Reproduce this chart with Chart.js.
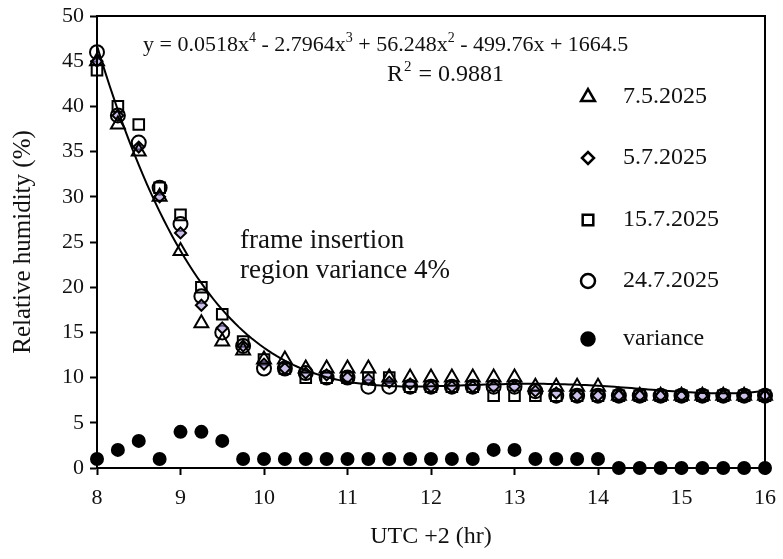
<!DOCTYPE html>
<html>
<head>
<meta charset="utf-8">
<script src="https://cdn.jsdelivr.net/npm/chart.js@4"></script>
<style>
  body { margin: 0; background: #fff; }
  #wrap { width: 783px; height: 559px; }
</style>
</head>
<body>
<div id="wrap"><canvas id="humidityChart" width="783" height="559"></canvas></div>
<script>
// hours, UTC +2
const hours = [8, 8.25, 8.5, 8.75, 9, 9.25, 9.5, 9.75, 10, 10.25, 10.5, 10.75, 11, 11.25, 11.5, 11.75,
    12, 12.25, 12.5, 12.75, 13, 13.25, 13.5, 13.75, 14, 14.25, 14.5, 14.75, 15, 15.25, 15.5, 15.75, 16];

const may7 = [45, 38, 35, 30, 24, 16, 14, 13, 12, 12, 11, 11, 11, 11, 10, 10,
    10, 10, 10, 10, 10, 9, 9, 9, 9, 8, 8, 8, 8, 8, 8, 8, 8];
const jul5 = [45, 39, 35.5, 30, 26, 18, 15.5, 13.5, 11.5, 11, 10.5, 10.3, 10, 9.8, 9.5, 9.3,
    9, 9, 9, 9, 9, 8.5, 8.3, 8, 8, 8, 8, 8, 8, 8, 8, 8, 8];
const jul15 = [44, 40, 38, 31, 28, 20, 17, 14, 12, 11, 10, 10, 10, 10, 10, 9,
    9, 9, 9, 8, 8, 8, 8, 8, 8, 8, 8, 8, 8, 8, 8, 8, 8];
const jul24 = [46, 39, 36, 31, 27, 19, 15, 13.5, 11, 11, 10.5, 10, 10, 9, 9, 9,
    9, 9, 9, 9, 9, 8.5, 8, 8, 8, 8, 8, 8, 8, 8, 8, 8, 8];
const variance = [1, 2, 3, 1, 4, 4, 3, 1, 1, 1, 1, 1, 1, 1, 1, 1,
    1, 1, 1, 2, 2, 1, 1, 1, 1, 0, 0, 0, 0, 0, 0, 0, 0];

// polynomial fit printed on the chart: a4, a3, a2, a1, a0
const fitCoef = [0.0518, -2.7964, 56.248, -499.76, 1664.5];
const rSquared = '0.9881';

const xTicks = [8, 9, 10, 11, 12, 13, 14, 15, 16];
const yTicks = [0, 5, 10, 15, 20, 25, 30, 35, 40, 45, 50];

const serif = "'Liberation Serif', 'Times New Roman', serif";

function pts(vals) {
    return hours.map((h, i) => ({ x: h, y: vals[i] }));
}

const fitLine = [];
for (let x = 8; x <= 16.0001; x += 0.05) {
    const y = fitCoef[0] * x ** 4 + fitCoef[1] * x ** 3 + fitCoef[2] * x ** 2 + fitCoef[3] * x + fitCoef[4];
    fitLine.push({ x: x, y: y });
}

const series = [
    { label: '7.5.2025', data: pts(may7), pointStyle: 'triangle', pointRadius: 8, legendRadius: 8, backgroundColor: 'rgba(255,255,255,0)' },
    { label: '5.7.2025', data: pts(jul5), pointStyle: 'rectRot', pointRadius: 5.5, legendRadius: 6, backgroundColor: 'rgba(160,140,210,0.55)' },
    { label: '15.7.2025', data: pts(jul15), pointStyle: 'rect', pointRadius: 7.5, legendRadius: 7.5, backgroundColor: 'rgba(255,255,255,0)' },
    { label: '24.7.2025', data: pts(jul24), pointStyle: 'circle', pointRadius: 7, legendRadius: 7, backgroundColor: 'rgba(255,255,255,0)' },
    { label: 'variance', data: pts(variance), pointStyle: 'circle', pointRadius: 6, legendRadius: 6.5, backgroundColor: '#000' }
];

const datasets = series.map((s) => ({
    type: 'scatter',
    label: s.label,
    data: s.data,
    pointStyle: s.pointStyle,
    pointRadius: s.pointRadius,
    legendRadius: s.legendRadius,
    pointBackgroundColor: s.backgroundColor,
    pointBorderColor: '#000',
    pointBorderWidth: 2,
    showLine: false,
    clip: false
}));

datasets.push({
    type: 'line',
    label: 'fit',
    data: fitLine,
    borderColor: '#000',
    borderWidth: 2,
    pointRadius: 0,
    tension: 0,
    order: -1
});

// text, box and legend drawn on top
const extras = {
    id: 'extras',
    afterDraw(chart) {
        const ctx = chart.ctx;
        const a = chart.chartArea;
        ctx.save();
        ctx.strokeStyle = '#000';
        ctx.lineWidth = 2;
        ctx.strokeRect(a.left, a.top, a.right - a.left, a.bottom - a.top);

        ctx.fillStyle = '#111';
        ctx.textBaseline = 'middle';
        ctx.textAlign = 'left';

        // equation with superscripts
        const parts = [
            ['y = 0.0518x', 0], ['4', 1], [' - 2.7964x', 0], ['3', 1], [' + 56.248x', 0], ['2', 1],
            [' - 499.76x + 1664.5', 0]
        ];
        let x = 143;
        const y = 45;
        for (const [t, sup] of parts) {
            ctx.font = (sup ? '14px ' : '22px ') + serif;
            ctx.fillText(t, x, sup ? y - 7 : y);
            x += ctx.measureText(t).width;
        }
        x = 387;
        const y2 = 75;
        ctx.font = '24px ' + serif;
        ctx.fillText('R', x, y2);
        x += ctx.measureText('R').width;
        ctx.font = '15px ' + serif;
        ctx.fillText('2', x + 1, y2 - 8);
        x += ctx.measureText('2').width + 2;
        ctx.font = '24px ' + serif;
        ctx.fillText(' = ' + rSquared, x, y2);

        ctx.font = '27px ' + serif;
        ctx.fillText('frame insertion', 240, 241);
        ctx.fillText('region variance 4%', 240, 271);

        // legend
        const rowY = [97, 158, 220, 281, 339];
        chart.data.datasets.slice(0, 5).forEach((ds, i) => {
            ctx.strokeStyle = '#000';
            ctx.fillStyle = i === 4 ? '#000' : '#fff';
            ctx.lineWidth = 2.5;
            Chart.helpers.drawPoint(ctx, {
                pointStyle: ds.pointStyle,
                radius: ds.legendRadius,
                rotation: 0,
                borderWidth: 2.5
            }, 588, rowY[i]);
            ctx.fillStyle = '#111';
            ctx.font = '24px ' + serif;
            ctx.fillText(ds.label, 623, rowY[i]);
        });
        ctx.restore();
    }
};

const ctx = document.getElementById('humidityChart').getContext('2d');

new Chart(ctx, {
    data: { datasets: datasets },
    options: {
        responsive: false,
        animation: false,
        layout: { padding: { left: 0, right: 18, top: 16, bottom: 0 } },
        plugins: {
            legend: { display: false },
            tooltip: { enabled: false }
        },
        scales: {
            x: {
                type: 'linear',
                min: 8,
                max: 16,
                afterBuildTicks: (scale) => { scale.ticks = xTicks.map((v) => ({ value: v })); },
                afterFit: (scale) => {
                    scale.height = 91;
                    scale.paddingLeft = 0;
                    scale.paddingRight = 0;
                },
                grid: { drawOnChartArea: false, tickLength: 7, tickWidth: 2, tickColor: '#000' },
                border: { color: '#000', width: 2 },
                ticks: { color: '#111', font: { family: serif, size: 22 }, padding: 10 },
                title: { display: true, text: 'UTC +2 (hr)', color: '#111', font: { family: serif, size: 24 }, padding: { top: 0, bottom: 8 } }
            },
            y: {
                min: 0,
                max: 50,
                afterBuildTicks: (scale) => { scale.ticks = yTicks.map((v) => ({ value: v })); },
                afterFit: (scale) => {
                    scale.width = 97;
                    scale.paddingTop = 0;
                    scale.paddingBottom = 0;
                },
                grid: { drawOnChartArea: false, tickLength: 7, tickWidth: 2, tickColor: '#000' },
                border: { color: '#000', width: 2 },
                ticks: { color: '#111', font: { family: serif, size: 22 }, padding: 6 },
                title: { display: true, text: 'Relative humidity (%)', color: '#111', font: { family: serif, size: 25 }, padding: { top: 8, bottom: 4 } }
            }
        }
    },
    plugins: [extras]
});
</script>
</body>
</html>
